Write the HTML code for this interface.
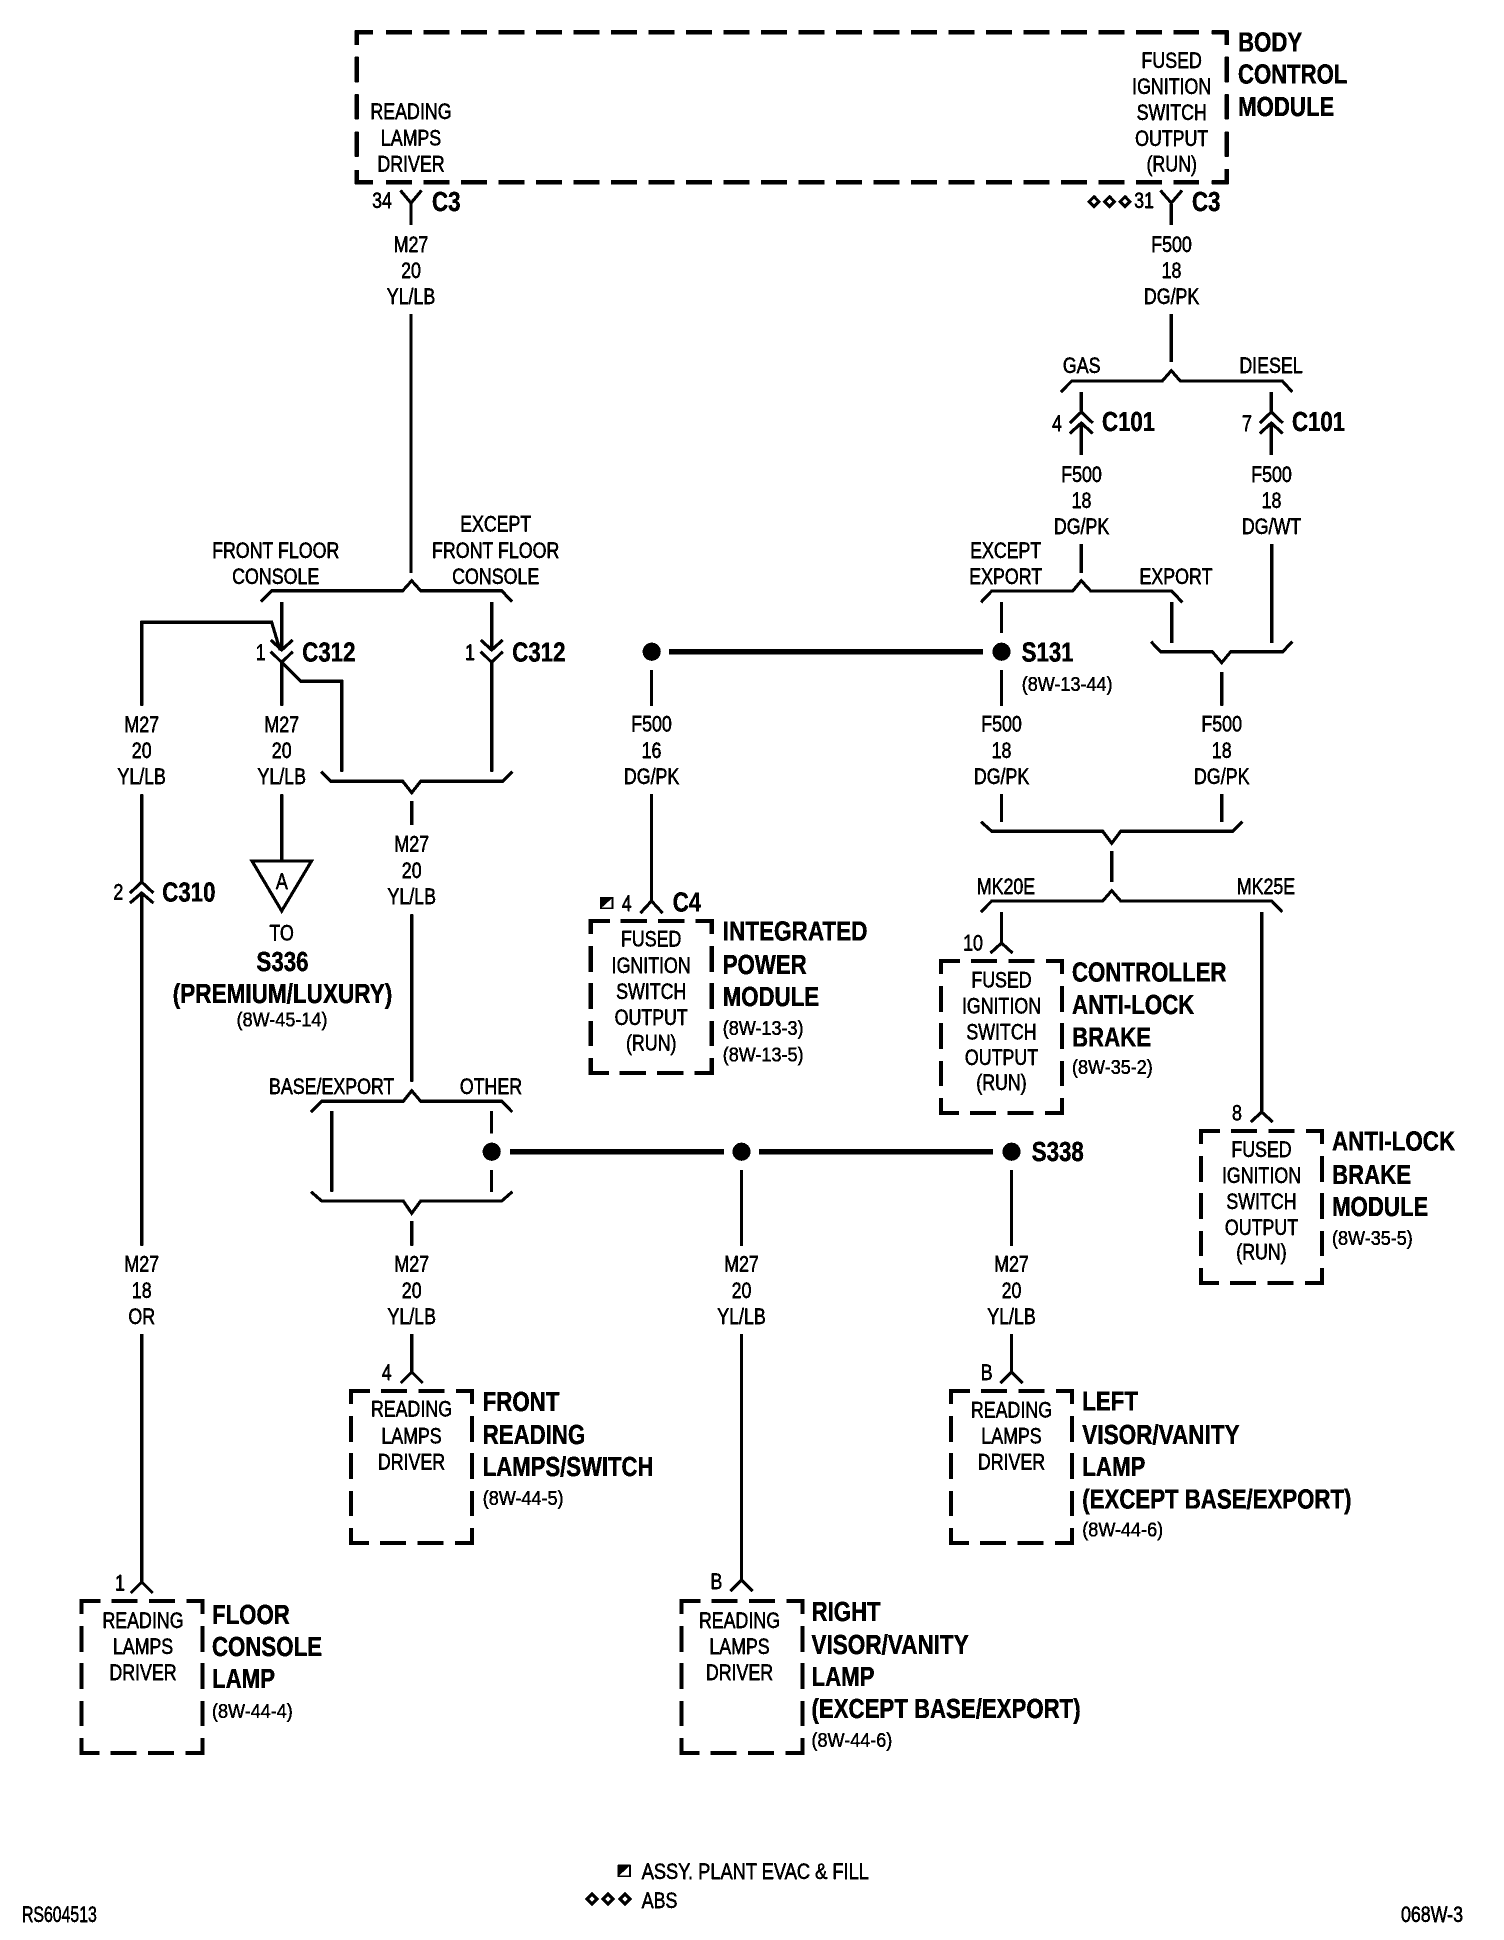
<!DOCTYPE html>
<html><head><meta charset="utf-8"><title>Reading lamps wiring diagram</title>
<style>
html,body{margin:0;padding:0;background:#fff}
svg{display:block}
text{font-family:"Liberation Sans",sans-serif;fill:#000;transform-box:fill-box}
.t,.tl{font-size:22px;stroke:#000;stroke-width:.45px;transform:scaleX(.81)}
.t{text-anchor:middle;transform-origin:center}
.tl{text-anchor:start;transform-origin:left center}
.b,.bc{font-size:28px;font-weight:bold;transform:scaleX(.795);stroke:#000;stroke-width:.3px}
.b{text-anchor:start;transform-origin:left center}
.bc{text-anchor:middle;transform-origin:center}
.r,.rc{font-size:20.5px;stroke:#000;stroke-width:.35px;transform:scaleX(.88)}
.r{text-anchor:start;transform-origin:left center}
.rc{text-anchor:middle;transform-origin:center}
.w{fill:none;stroke:#000;stroke-width:3}
.h{fill:none;stroke:#000;stroke-width:5}
.bx{fill:none;stroke:#000;stroke-width:4;stroke-dasharray:19 11 26 11.5 26 11.5 29 12 26 11 26 12 25 12 32 11.5 26 11.5 26 11 33 12 25 12 26 11 26 12 13}
.k{fill:none;stroke:#000;stroke-width:4}
</style></head>
<body>
<svg width="1504" height="1940" viewBox="0 0 1504 1940" xmlns="http://www.w3.org/2000/svg">
<defs>
<filter id="th" filterUnits="userSpaceOnUse" x="0" y="0" width="1504" height="1940" color-interpolation-filters="sRGB">
<feComponentTransfer>
<feFuncR type="discrete" tableValues="0 0 1"/>
<feFuncG type="discrete" tableValues="0 0 1"/>
<feFuncB type="discrete" tableValues="0 0 1"/>
</feComponentTransfer>
</filter>
</defs>
<g filter="url(#th)">
<rect width="1504" height="1940" fill="#fff"/>

<!-- Body control module box -->
<path class="k" d="M373 32.3H356.7V45M356.7 56.7V82.3M356.7 94.3V119.3M356.7 131.7V156.7M356.7 170V182.3H373M1211.7 32.3H1226.7V45M1226.7 56.7V82.3M1226.7 94.3V119.3M1226.7 131.7V156.7M1226.7 169V182.3H1211.7"/>
<path class="k" stroke-dasharray="26 11.5" d="M386 32.3H1199M386 182.3H1199"/>

<!-- Small module boxes -->
<path class="bx" d="M590.7 921H711.7V1073H590.7Z"/>
<path class="bx" d="M941 961H1062V1113H941Z"/>
<path class="bx" d="M1201 1131H1322V1283H1201Z"/>
<path class="bx" d="M351 1391H472V1543H351Z"/>
<path class="bx" d="M951 1391H1072V1543H951Z"/>
<path class="bx" d="M81.5 1601H202.5V1753H81.5Z"/>
<path class="bx" d="M681.5 1601H802.5V1753H681.5Z"/>

<!-- Wires -->
<path class="w" d="
M411 203V225M400.5 190.5L411 203L421.5 190.5
M1171.3 203V225M1160.5 190.5L1171.3 203L1182 190.5
M411 314V573
M1171.3 314V362
M1081.3 392V412M1069.8 423L1081.3 412L1092.8 423M1069.8 433.5L1081.3 423L1092.8 433.5M1081.3 423V455
M1271.3 392V412M1259.8 423L1271.3 412L1282.8 423M1259.8 433.5L1271.3 423L1282.8 433.5M1271.3 423V455
M1081.3 544V573
M1271.7 544V643
M1001.5 602V633M1001.5 670V705.7
M1171.7 602V643
M1221.7 672V705.7
M651.5 670V705.7
M1001.5 794V822M1221.7 794V822
M1111.7 851V882
M1001.5 912V943M990.5 953L1001.5 943L1012.5 953
M1261.7 912V1112M1250.7 1122L1261.7 1112L1272.7 1122
M651.5 794.3V901M640.5 913L651.5 901L662.5 913
M281.7 602V650M270.7 640L281.7 650L292.7 640M270.7 651.7L281.7 662.3L292.7 651.7M281.7 662.3V705.7
M491.7 602V650M480.7 640L491.7 650L502.7 640M480.7 651.7L491.7 662.3L502.7 651.7M491.7 662.3V771.7
M141.7 705.7V622.3H271.7L280 650
M281.7 662.3L300.7 681.3H341.7V771.7
M141.7 794.3V882M130 893L141.7 882L153.4 893M130 903L141.7 893L153.4 903M141.7 893V1245.7
M141.7 1334V1582M130.7 1593L141.7 1582L152.7 1593
M281.7 794.3V860
M411.7 801V825
M411.7 914.3V1081.7
M331.7 1111V1191.7
M491.5 1111V1133.3M491.5 1170V1191.7
M411.7 1221V1245.7M411.7 1334V1372M400.7 1383L411.7 1372L422.7 1383
M741.5 1170V1245.7M741.5 1334V1580M730.5 1591L741.5 1580L752.5 1591
M1011.5 1170V1245.7M1011.5 1334V1372M1000.5 1383L1011.5 1372L1022.5 1383
"/>

<!-- Brackets -->
<path class="w" d="
M261 601.7L271.7 590.7H402.7L411.7 580.7L420.7 590.7H501.7L512 601.7
M1061 392L1071.7 381H1162.3L1171.3 370.7L1180.3 381H1282.3L1292.3 392
M981 602.3L991.7 591H1072.7L1081.3 580.7L1090.7 591H1171.7L1182.3 602.3
M1151 641.7L1160.7 651.7H1212.3L1221.7 662.7L1230.7 651.7H1282.7L1292.3 641.7
M981 821.7L991.7 831.3H1102.7L1111.7 843.3L1120.7 831.3H1232.7L1242.3 821.7
M981 912L991.7 901H1102.7L1111.7 890.7L1120.7 901H1271.7L1282.3 912
M321 771.7L330.7 781.3H402.7L411.7 792.7L420.7 781.3H502.7L512.3 771.7
M311 1112L321.7 1101.3H403.3L411.7 1090.7L420.7 1101.3H501.7L512.3 1112
M311 1191.7L321.7 1201H403.3L411.7 1213.3L420.7 1201H501.7L512.3 1191.7
"/>

<!-- Heavy splice bars and dots -->
<path class="h" d="M669 651.7H983M510 1151.7H724M759 1151.7H993"/>
<circle cx="651.7" cy="651.7" r="9"/>
<circle cx="1001.5" cy="651.7" r="9"/>
<circle cx="491.7" cy="1151.7" r="9"/>
<circle cx="741.5" cy="1151.7" r="9"/>
<circle cx="1011.5" cy="1151.7" r="9"/>

<!-- Triangle reference -->
<path class="w" d="M252 861H311.5L281.7 911Z"/>

<!-- Legend marks -->
<g fill="none" stroke="#000" stroke-width="3">
<path d="M1094 196.7L1099 201.7L1094 206.7L1089 201.7Z"/>
<path d="M1109.5 196.7L1114.5 201.7L1109.5 206.7L1104.5 201.7Z"/>
<path d="M1125 196.7L1130 201.7L1125 206.7L1120 201.7Z"/>
<path d="M592 1894L597 1899L592 1904L587 1899Z"/>
<path d="M608 1894L613 1899L608 1904L603 1899Z"/>
<path d="M625 1894L630 1899L625 1904L620 1899Z"/>
</g>
<rect x="601" y="897.7" width="11.5" height="10.6" fill="#fff" stroke="#000" stroke-width="1.5"/>
<path d="M601 908.3V897.7H612.5Z"/>
<rect x="618.5" y="1865.5" width="11.5" height="10.6" fill="#fff" stroke="#000" stroke-width="1.5"/>
<path d="M618.5 1876V1865.5H630Z"/>

<!-- BCM text -->
<text class="t" x="411" y="119">READING</text>
<text class="t" x="411" y="145.5">LAMPS</text>
<text class="t" x="411" y="171.5">DRIVER</text>
<text class="t" x="1171.7" y="68">FUSED</text>
<text class="t" x="1171.7" y="94">IGNITION</text>
<text class="t" x="1171.7" y="120">SWITCH</text>
<text class="t" x="1171.7" y="146">OUTPUT</text>
<text class="t" x="1171.7" y="171.5">(RUN)</text>
<text class="b" x="1238" y="51.7">BODY</text>
<text class="b" x="1238" y="83.3" style="transform:scaleX(.79)">CONTROL</text>
<text class="b" x="1238" y="116">MODULE</text>

<text class="t" x="382" y="208">34</text>
<text class="b" x="432" y="211">C3</text>
<text class="t" x="1144" y="208">31</text>
<text class="b" x="1192" y="211">C3</text>

<text class="t" x="411" y="252">M27</text>
<text class="t" x="411" y="278">20</text>
<text class="t" x="411" y="304">YL/LB</text>
<text class="t" x="1171.5" y="252">F500</text>
<text class="t" x="1171.5" y="278">18</text>
<text class="t" x="1171.5" y="304">DG/PK</text>

<text class="t" x="1081.7" y="373">GAS</text>
<text class="t" x="1271" y="373">DIESEL</text>
<text class="t" x="1057" y="431">4</text>
<text class="b" x="1102" y="431">C101</text>
<text class="t" x="1247" y="431">7</text>
<text class="b" x="1292" y="431">C101</text>
<text class="t" x="1081.5" y="482">F500</text>
<text class="t" x="1081.5" y="508">18</text>
<text class="t" x="1081.5" y="534">DG/PK</text>
<text class="t" x="1271.5" y="482">F500</text>
<text class="t" x="1271.5" y="508">18</text>
<text class="t" x="1271.5" y="534">DG/WT</text>

<text class="t" x="1005.7" y="558">EXCEPT</text>
<text class="t" x="1005.7" y="584">EXPORT</text>
<text class="t" x="1176" y="584">EXPORT</text>
<text class="b" x="1021.7" y="661.3">S131</text>
<text class="r" x="1021.7" y="691">(8W-13-44)</text>

<text class="t" x="1001.5" y="731.7">F500</text>
<text class="t" x="1001.5" y="758">18</text>
<text class="t" x="1001.5" y="784">DG/PK</text>
<text class="t" x="1221.7" y="731.7">F500</text>
<text class="t" x="1221.7" y="758">18</text>
<text class="t" x="1221.7" y="784">DG/PK</text>
<text class="t" x="1006" y="894">MK20E</text>
<text class="t" x="1266" y="894">MK25E</text>

<text class="t" x="651.5" y="731.7">F500</text>
<text class="t" x="651.5" y="758">16</text>
<text class="t" x="651.5" y="784">DG/PK</text>
<text class="t" x="626.7" y="911">4</text>
<text class="b" x="672.7" y="911.7">C4</text>

<!-- IPM -->
<text class="t" x="651.2" y="946.7">FUSED</text>
<text class="t" x="651.2" y="973">IGNITION</text>
<text class="t" x="651.2" y="999">SWITCH</text>
<text class="t" x="651.2" y="1025">OUTPUT</text>
<text class="t" x="651.2" y="1050.5">(RUN)</text>
<text class="b" x="722.7" y="940.7" style="transform:scaleX(.805)">INTEGRATED</text>
<text class="b" x="722.7" y="974">POWER</text>
<text class="b" x="722.7" y="1006">MODULE</text>
<text class="r" x="722.7" y="1035">(8W-13-3)</text>
<text class="r" x="722.7" y="1061.7">(8W-13-5)</text>

<!-- Controller -->
<text class="t" x="973" y="950.7">10</text>
<text class="t" x="1001.5" y="987.3">FUSED</text>
<text class="t" x="1001.5" y="1013.3">IGNITION</text>
<text class="t" x="1001.5" y="1039.3">SWITCH</text>
<text class="t" x="1001.5" y="1065">OUTPUT</text>
<text class="t" x="1001.5" y="1090">(RUN)</text>
<text class="b" x="1072" y="981.7">CONTROLLER</text>
<text class="b" x="1072" y="1014">ANTI-LOCK</text>
<text class="b" x="1072" y="1046.7">BRAKE</text>
<text class="r" x="1072" y="1074">(8W-35-2)</text>

<!-- ABS module -->
<text class="t" x="1237" y="1120.7">8</text>
<text class="t" x="1261.5" y="1157">FUSED</text>
<text class="t" x="1261.5" y="1183">IGNITION</text>
<text class="t" x="1261.5" y="1209">SWITCH</text>
<text class="t" x="1261.5" y="1235">OUTPUT</text>
<text class="t" x="1261.5" y="1259.5">(RUN)</text>
<text class="b" x="1332" y="1150.7" style="transform:scaleX(.8)">ANTI-LOCK</text>
<text class="b" x="1332" y="1184">BRAKE</text>
<text class="b" x="1332" y="1216">MODULE</text>
<text class="r" x="1332" y="1245">(8W-35-5)</text>

<text class="b" x="1031.8" y="1161">S338</text>

<!-- Front floor console labels -->
<text class="t" x="275.7" y="558">FRONT FLOOR</text>
<text class="t" x="275.7" y="584">CONSOLE</text>
<text class="t" x="495.7" y="531.7">EXCEPT</text>
<text class="t" x="495.7" y="558">FRONT FLOOR</text>
<text class="t" x="495.7" y="584">CONSOLE</text>
<text class="t" x="260.7" y="660">1</text>
<text class="b" x="302.3" y="661.3">C312</text>
<text class="t" x="470" y="660">1</text>
<text class="b" x="512.3" y="661.3">C312</text>

<text class="t" x="141.7" y="732">M27</text>
<text class="t" x="141.7" y="758">20</text>
<text class="t" x="141.7" y="784">YL/LB</text>
<text class="t" x="281.7" y="732">M27</text>
<text class="t" x="281.7" y="758">20</text>
<text class="t" x="281.7" y="784">YL/LB</text>
<text class="t" x="411.7" y="851.7">M27</text>
<text class="t" x="411.7" y="878">20</text>
<text class="t" x="411.7" y="904">YL/LB</text>

<text class="t" x="118.3" y="899.3">2</text>
<text class="b" x="162.3" y="901.7">C310</text>
<text class="t" x="281.7" y="889">A</text>
<text class="t" x="281.7" y="940.7">TO</text>
<text class="bc" x="282.5" y="971">S336</text>
<text class="bc" x="282.5" y="1003" style="transform:scaleX(.805)">(PREMIUM/LUXURY)</text>
<text class="rc" x="282" y="1026.7">(8W-45-14)</text>

<text class="t" x="331.7" y="1094">BASE/EXPORT</text>
<text class="t" x="491" y="1094">OTHER</text>

<!-- Lower wire labels -->
<text class="t" x="141.7" y="1271.7">M27</text>
<text class="t" x="141.7" y="1298">18</text>
<text class="t" x="141.7" y="1324">OR</text>
<text class="t" x="411.7" y="1271.7">M27</text>
<text class="t" x="411.7" y="1298">20</text>
<text class="t" x="411.7" y="1324">YL/LB</text>
<text class="t" x="741.5" y="1271.7">M27</text>
<text class="t" x="741.5" y="1298">20</text>
<text class="t" x="741.5" y="1324">YL/LB</text>
<text class="t" x="1011.5" y="1271.7">M27</text>
<text class="t" x="1011.5" y="1298">20</text>
<text class="t" x="1011.5" y="1324">YL/LB</text>

<!-- Front reading lamps -->
<text class="t" x="386.7" y="1380">4</text>
<text class="t" x="411.5" y="1416.7">READING</text>
<text class="t" x="411.5" y="1443.3">LAMPS</text>
<text class="t" x="411.5" y="1469.3">DRIVER</text>
<text class="b" x="482.7" y="1411">FRONT</text>
<text class="b" x="482.7" y="1444">READING</text>
<text class="b" x="482.7" y="1476" style="transform:scaleX(.79)">LAMPS/SWITCH</text>
<text class="r" x="482.7" y="1505">(8W-44-5)</text>

<!-- Left visor -->
<text class="t" x="986.7" y="1380">B</text>
<text class="t" x="1011.5" y="1417.3">READING</text>
<text class="t" x="1011.5" y="1443.3">LAMPS</text>
<text class="t" x="1011.5" y="1469.3">DRIVER</text>
<text class="b" x="1082.3" y="1410.7">LEFT</text>
<text class="b" x="1082.3" y="1444" style="transform:scaleX(.805)">VISOR/VANITY</text>
<text class="b" x="1082.3" y="1476">LAMP</text>
<text class="b" x="1082.3" y="1508.3" style="transform:scaleX(.794)">(EXCEPT BASE/EXPORT)</text>
<text class="r" x="1082.3" y="1536.7">(8W-44-6)</text>

<!-- Floor console lamp -->
<text class="t" x="120" y="1590.7">1</text>
<text class="t" x="143" y="1628">READING</text>
<text class="t" x="143" y="1654">LAMPS</text>
<text class="t" x="143" y="1680">DRIVER</text>
<text class="b" x="212" y="1624">FLOOR</text>
<text class="b" x="212" y="1656">CONSOLE</text>
<text class="b" x="212" y="1688">LAMP</text>
<text class="r" x="212" y="1718">(8W-44-4)</text>

<!-- Right visor -->
<text class="t" x="716.5" y="1589">B</text>
<text class="t" x="739.5" y="1628">READING</text>
<text class="t" x="739.5" y="1654">LAMPS</text>
<text class="t" x="739.5" y="1680">DRIVER</text>
<text class="b" x="811.5" y="1621">RIGHT</text>
<text class="b" x="811.5" y="1654" style="transform:scaleX(.805)">VISOR/VANITY</text>
<text class="b" x="811.5" y="1686">LAMP</text>
<text class="b" x="811.5" y="1718" style="transform:scaleX(.794)">(EXCEPT BASE/EXPORT)</text>
<text class="r" x="811.5" y="1747">(8W-44-6)</text>

<!-- Legend and footer -->
<text class="tl" x="641.7" y="1879" style="transform:scaleX(.83)">ASSY. PLANT EVAC &amp; FILL</text>
<text class="tl" x="641.7" y="1908">ABS</text>
<text class="tl" x="22" y="1922" style="transform:scaleX(.72)">RS604513</text>
<text class="tl" x="1401" y="1922" style="transform:scaleX(.81)">068W-3</text>
</g>
</svg>
</body></html>
